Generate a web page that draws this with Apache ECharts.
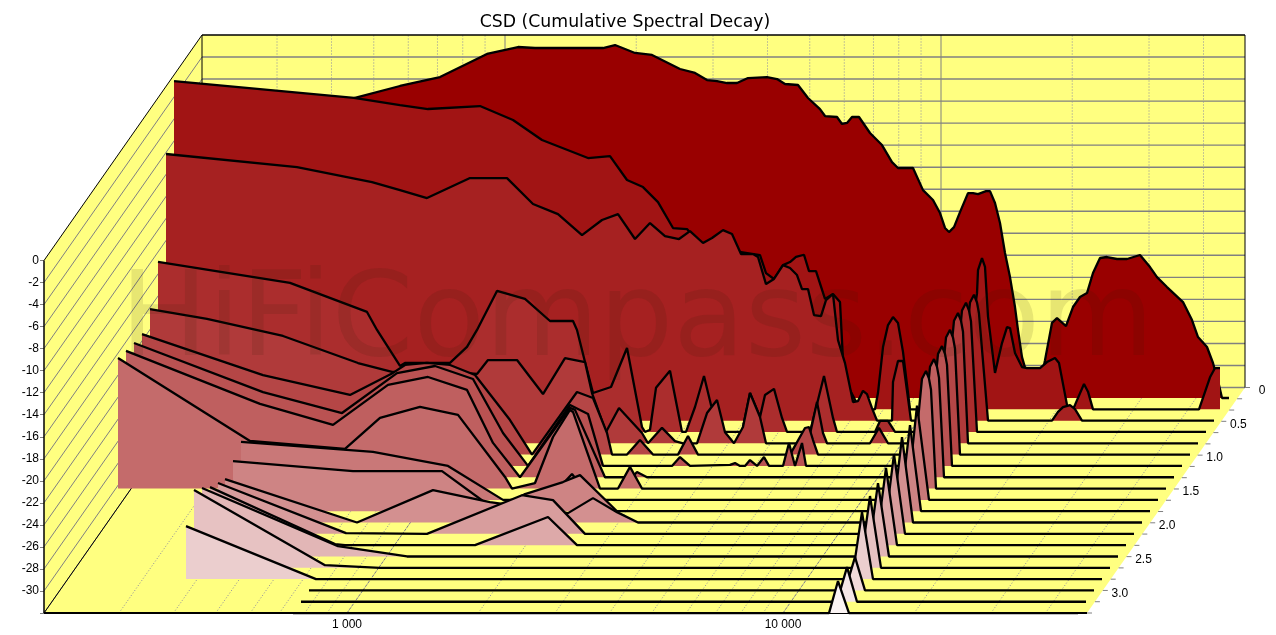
<!DOCTYPE html>
<html><head><meta charset="utf-8">
<style>html,body{margin:0;padding:0;background:#fff}#c{width:1276px;height:635px}</style>
<script src="https://cdn.jsdelivr.net/npm/echarts@6/dist/echarts.min.js"></script>
</head><body><div id="c"></div>
<script>
// Each slice: [frequency bin (436 bins per decade, log scale), level in dB]
const slice00=[[0,-7.7],[172,-4.83],[218,-3.74],[258,-2.93],[305,-.84],[336,-.21],[353,-.3],[421,-.3],[433,-.03],[453,-.75],[470,-.93],[498,-2.2],[513,-2.56],[525,-3.2],[535,-3.29],[545,-3.47],[555,-3.47],[566,-3.02],[585,-2.93],[595,-3.11],[603,-3.56],[616,-3.65],[626,-4.83],[638,-5.83],[643,-6.46],[655,-6.55],[660,-7.18],[665,-7.09],[670,-6.55],[677,-6.55],[688,-8],[700,-9.09],[710,-10.63],[716,-11.17],[731,-11.17],[741,-13.17],[751,-14.07],[758,-15.25],[763,-16.6],[767,-16.97],[772,-16.52],[778,-15.16],[786,-13.44],[791,-13.44],[796,-13.53],[804,-13.26],[808,-13.26],[813,-14.34],[818,-16.15],[823,-18.87],[828,-21.05],[833,-23.76],[836,-25.85],[840,-28.3],[848,-30.83],[858,-30.83],[863,-28.57],[870,-25.2],[875,-24.76],[884,-25.48],[891,-23.76],[898,-22.85],[905,-22.5],[911,-20.68],[918,-19.32],[925,-19.23],[935,-19.41],[945,-19.41],[958,-19.05],[968,-20.14],[975,-21.05],[985,-21.95],[1001,-23.31],[1010,-24.94],[1016,-26.48],[1025,-27.38],[1031,-28.83],[1037,-30.83],[1040,-32],[1047,-32]];
const slice01=[[0,-2.27],[180,-3.8],[226,-4.44],[254,-4.8],[306,-4.53],[339,-5.8],[368,-7.61],[414,-9.24],[436,-9.06],[453,-11.23],[469,-11.87],[484,-13.23],[499,-15.58],[513,-15.67],[526,-17.1],[556,-17.6],[586,-18.03],[592,-19.66],[600,-20.2],[609,-18.94],[616,-18.66],[622,-18.2],[630,-18],[635,-19.48],[642,-19.48],[651,-22],[659,-21.56],[661,-21.56],[666,-22.29],[669,-27.54],[676,-30.26],[686,-32],[701,-32],[704,-30.5],[709,-26.36],[714,-24.37],[719,-23.64],[724,-24.18],[729,-26.8],[736,-32],[776,-32],[798,-24.8],[803,-21.5],[804,-19.4],[808,-18.3],[811,-19.1],[814,-23.6],[821,-28.7],[828,-26],[833,-24.55],[836,-24.64],[841,-26.9],[848,-28.17],[853,-28.26],[866,-28.26],[873,-27.72],[881,-27.36],[885,-27.8],[893,-31.6],[895,-32],[899,-32],[901,-31.6],[910,-29.7],[914,-30.4],[919,-32],[1025,-32],[1036,-29.1],[1041,-28.26],[1046,-28.26]];
const slice02=[[0,-7.85],[131,-9.03],[206,-10.39],[234,-11.12],[261,-11.84],[304,-10.03],[341,-10.03],[367,-12.38],[392,-13.29],[416,-15.19],[436,-13.83],[452,-13.29],[469,-15.55],[484,-14.1],[499,-15.28],[513,-15.55],[524,-14.83],[537,-15.91],[546,-15.46],[557,-14.74],[566,-15.1],[575,-16.91],[587,-16.91],[592,-17.18],[600,-19.63],[608,-19.17],[617,-17.91],[624,-18.18],[631,-18.81],[636,-20.08],[642,-20.08],[648,-22.44],[655,-22.53],[660,-21.08],[667,-20.53],[672,-24.7],[679,-26.79],[687,-30.32],[692,-30.23],[697,-29.3],[701,-29.6],[706,-30.87],[711,-32],[726,-32],[727,-28.5],[732,-26.6],[737,-26.6],[745,-32],[787,-32],[801,-24.1],[804,-21.3],[808,-20.6],[811,-21.3],[813,-22.3],[822,-32],[886,-32],[892,-31.2],[897,-30.77],[904,-30.59],[909,-30.95],[916,-32],[1048,-32]];
const slice03=[[0,-16.6],[132,-18.5],[209,-21.13],[219,-22.76],[242,-26.02],[247,-25.75],[292,-25.75],[309,-24.3],[319,-22.76],[339,-19.23],[367,-19.95],[392,-21.95],[415,-21.95],[419,-22.76],[427,-25.66],[435,-28.47],[453,-27.93],[469,-24.39],[484,-31.55],[487,-32],[492,-31.8],[498,-28],[512,-26.46],[524,-32],[528,-32],[537,-29.74],[546,-26.93],[553,-29.56],[565,-32],[584,-32],[592,-28.47],[602,-30.64],[607,-28.65],[616,-28.1],[624,-30.73],[629,-32],[652,-32],[666,-26.93],[675,-30.73],[679,-32],[717,-32],[722,-31],[730,-31],[737,-32],[793,-32],[801,-23.8],[804,-21],[808,-20.3],[811,-21],[813,-22],[819,-32],[1048,-32]];
const slice04=[[0,-19.84],[57,-20.74],[133,-22.28],[208,-24.73],[242,-25.54],[300,-25.54],[327,-25.72],[338,-24.46],[367,-24.46],[393,-27.54],[415,-24.28],[435,-24.64],[442,-27.45],[456,-30.98],[469,-28.8],[492,-31.07],[498,-32],[512,-30.6],[525,-31.8],[533,-32],[547,-32],[557,-29.26],[567,-28.08],[575,-31],[584,-32],[593,-30.53],[600,-27.45],[610,-29.62],[616,-32],[658,-32],[667,-28.26],[673,-31.07],[677,-32],[720,-32],[729,-30.6],[738,-32],[793,-32],[801,-23.7],[804,-20.9],[808,-20.2],[811,-20.9],[813,-21.9],[818,-32],[1048,-32]];
const slice05=[[0,-21.08],[121,-24.8],[208,-26.6],[251,-24.6],[263,-23.88],[285,-23.7],[308,-23.88],[333,-24.79],[368,-28.87],[390,-32],[435,-26.33],[451,-26.87],[465,-30.04],[470,-32],[485,-32],[498,-30.68],[511,-32],[536,-32],[546,-30.32],[556,-32],[648,-32],[663,-29.59],[667,-29.5],[671,-30.68],[676,-32],[793,-32],[801,-24.2],[804,-21.4],[808,-20.7],[811,-21.4],[813,-22.4],[818,-32],[1048,-32]];
const slice06=[[0,-20.87],[129,-25.31],[208,-27.21],[263,-23.59],[301,-22.95],[339,-24.13],[369,-29.02],[394,-32],[436,-26.48],[454,-27.29],[469,-32],[538,-32],[546,-31.2],[556,-32],[596,-31.9],[601,-31.74],[606,-32],[611,-32],[616,-31.47],[623,-32],[625,-32],[630,-31.2],[635,-32],[649,-32],[655,-29.93],[661,-32],[663,-32],[668,-29.93],[672,-32],[793,-32],[801,-24.65],[804,-21.85],[808,-21.15],[811,-21.85],[813,-22.85],[818,-32],[1048,-32]];
const slice07=[[0,-20.56],[134,-25.36],[207,-27.26],[262,-23.64],[302,-22.92],[341,-24.09],[367,-28.89],[394,-32],[444,-25.72],[449,-25.9],[479,-32],[506,-32],[511,-31.52],[521,-32],[793,-32],[801,-24.8],[804,-22],[808,-21.3],[811,-22],[813,-23],[818,-32],[1048,-32]];
const slice08=[[0,-20.17],[132,-27.69],[227,-28.41],[262,-25.6],[302,-24.6],[340,-25.33],[387,-30.95],[394,-32],[417,-31.5],[435,-27.33],[452,-24.88],[455,-25.06],[482,-32],[500,-32],[512,-30.04],[524,-32],[793,-32],[801,-24.85],[804,-22.05],[808,-21.35],[811,-22.05],[813,-23.05],[818,-32],[1048,-32]];
const slice09=[[131,-26.75],[263,-27.66],[338,-28.93],[393,-32],[438,-32],[462,-29.65],[482,-32],[797,-32],[807,-23.47],[809,-23.5],[819,-32],[1048,-32]];
const slice10=[[131,-27.46],[251,-28.37],[340,-28.37],[395,-32],[423,-30.45],[461,-29.36],[478,-28.73],[515,-32],[798,-32],[808,-24.2],[810,-24.2],[819,-32],[1048,-32]];
const slice11=[[131,-28.07],[263,-32],[339,-29.07],[396,-30.15],[474,-31.15],[499,-29.79],[523,-31.06],[544,-32],[798,-32],[808,-24.26],[810,-24.26],[819,-32],[1048,-32]];
const slice12=[[132,-27.4],[260,-31.94],[341,-32],[436,-28.5],[467,-28.95],[499,-32],[798,-32],[808,-24.78],[810,-24.78],[819,-32],[1048,-32]];
const slice13=[[132,-26.74],[257,-31.9],[267,-32],[397,-32],[470,-29.45],[499,-32],[798,-32],[808,-25.01],[810,-25.01],[819,-32],[1048,-32]];
const slice14=[[132,-25.8],[268,-31.06],[337,-32],[798,-32],[808,-25.35],[810,-25.35],[819,-32],[1048,-32]];
const slice15=[[132,-24.96],[263,-31.76],[318,-32],[798,-32],[808,-25.5],[810,-25.5],[819,-32],[1048,-32]];
const slice16=[[132,-27.2],[262,-32],[798,-32],[808,-25.93],[810,-25.93],[819,-32],[1048,-32]];
const slice17=[[263,-32],[799,-32],[809,-28.98],[811,-28.98],[819,-32],[1048,-32]];
const slice18=[[263,-32],[799,-32],[809,-28.86],[811,-28.86],[819,-32],[1048,-32]];
const slice19=[[263,-32],[799,-32],[808,-29.1],[810,-29.1],[819,-32],[1048,-32]];
const slices=[slice00,slice01,slice02,slice03,slice04,slice05,slice06,slice07,slice08,slice09,slice10,slice11,slice12,slice13,slice14,slice15,slice16,slice17,slice18,slice19];
const sliceColors=['#990000','#a11414','#a62121','#ab2d2d','#b03a3a','#b54646','#ba5252','#bf5f5f','#c46b6b','#c97878','#ce8484','#d39090','#d89d9d','#dda9a9','#e2b6b6','#e7c2c2','#ebcece','#f1dbdb','#f5e7e7','#fbf4f4'];

const freqTicks=[300,400,500,600,700,800,900,1000,2000,3000,4000,5000,6000,7000,8000,9000,10000,20000,30000,40000];
const freqAxisTicks=freqTicks.concat([100000]);
const freqLabels={1000:'1 000',10000:'10 000'};
const dbTicks=[0,-2,-4,-6,-8,-10,-12,-14,-16,-18,-20,-22,-24,-26,-28,-30,-32];
const timeTicks=[0,1,2,3,4,5,6,7,8,9,10,11,12,13,14,15,16,17,18,19,20].map(i=>i/6);
const timeLabels=[[0,'0'],[0.5,'0.5'],[1,'1.0'],[1.5,'1.5'],[2,'2.0'],[2.5,'2.5'],[3,'3.0']];
const title='CSD (Cumulative Spectral Decay)';
const watermark='HiFiCompass.com';

const LOG_MIN=(44-347)/436+3, LOG_FLOOR_MAX=(1087-347)/436+3, T_MAX=20/6;
const SHEAR_X=158, SHEAR_Y=-225.5;
const FONT='12px "Liberation Sans", Arial, sans-serif';

function renderBox(params,api){
  const P=(lf,db,d)=>{const c=api.coord([lf,db]);return [c[0]+SHEAR_X*d,c[1]+SHEAR_Y*d];};
  const kids=[];
  const poly=(pts,fill)=>kids.push({type:'polygon',shape:{points:pts},style:{fill:fill,stroke:null}});
  const line=(a,b,color,w,dash)=>kids.push({type:'line',shape:{x1:a[0],y1:a[1],x2:b[0],y2:b[1]},style:{stroke:color,lineWidth:w,lineDash:dash||null}});
  const Y='#ffff80', GR='#808080', DOT='#8a8aa0';
  // walls and floor
  poly([P(LOG_MIN,0,0),P(LOG_MIN,0,1),P(LOG_MIN,-32,1),P(LOG_MIN,-32,0)],Y);
  poly([P(LOG_MIN,0,1),P(LOG_FLOOR_MAX,0,1),P(LOG_FLOOR_MAX,-32,1),P(LOG_MIN,-32,1)],Y);
  poly([P(LOG_MIN,-32,0),P(LOG_MIN,-32,1),P(LOG_FLOOR_MAX,-32,1),P(LOG_FLOOR_MAX,-32,0)],Y);
  // level grid on left and back walls
  dbTicks.forEach(db=>{
    if(db===0) return;
    line(P(LOG_MIN,db,0),P(LOG_MIN,db,1),GR,1);
    line(P(LOG_MIN,db,1),P(LOG_FLOOR_MAX,db,1),GR,1.4);
  });
  // frequency grid on floor and back wall
  freqTicks.forEach(f=>{
    const lf=Math.log10(f), major=(f===1000||f===10000);
    line(P(lf,-32,0),P(lf,-32,1),major?'#77778f':DOT,1,major?[3,1]:[1,2]);
    line(P(lf,-32,1),P(lf,0,1),major?GR:DOT,1,major?null:[1,2]);
  });
  // frame
  line(P(LOG_MIN,0,0),P(LOG_MIN,0,1),'#000',1);
  line(P(LOG_MIN,0,1),P(LOG_FLOOR_MAX,0,1),'#000',1.5);
  line(P(LOG_FLOOR_MAX,0,1),P(LOG_FLOOR_MAX,-32,1),'#000',1);
  line(P(LOG_MIN,0,1),P(LOG_MIN,-32,1),'#000',1);
  line(P(LOG_MIN,-32,0),P(LOG_MIN,-32,1),'#000',1);
  line(P(LOG_MIN,0,0),P(LOG_MIN,-32,0),'#000',1.5);
  line(P(LOG_MIN,-32,0),P(LOG_FLOOR_MAX,-32,0),'#000',2);
  // time axis along the right floor edge
  timeTicks.forEach(t=>{
    const p=P(LOG_FLOOR_MAX,-32,1-t/T_MAX);
    line(p,[p[0]+5,p[1]],GR,1);
  });
  timeLabels.forEach(([t,s])=>{
    const p=P(LOG_FLOOR_MAX,-32,1-t/T_MAX);
    kids.push({type:'text',style:{text:s,x:p[0]+17,y:p[1]+3,align:'center',verticalAlign:'middle',font:FONT,fill:'#000'}});
  });
  return {type:'group',children:kids};
}

const grids=[{left:44,top:260.5,width:1175,height:352.5}];
const xAxes=[{gridIndex:0,type:'value',min:LOG_MIN,max:5,splitLine:{show:false},axisLine:{show:false},
  axisTick:{show:true,length:4,lineStyle:{color:'#808080'},customValues:freqAxisTicks.map(f=>Math.log10(f))},
  axisLabel:{show:true,margin:6,color:'#000',fontFamily:'Liberation Sans',fontSize:12,customValues:[3,4],
    formatter:v=>freqLabels[Math.round(Math.pow(10,v))]||''}}];
const yAxes=[{gridIndex:0,type:'value',min:-32,max:0,interval:2,splitLine:{show:false},axisLine:{show:false},
  axisTick:{show:true,length:4,lineStyle:{color:'#808080'}},
  axisLabel:{margin:5,color:'#000',fontFamily:'Liberation Sans',fontSize:12,formatter:v=>v===-32?'':String(v)}}];
const series=[{type:'custom',coordinateSystem:'cartesian2d',xAxisIndex:0,yAxisIndex:0,data:[[3,-16]],renderItem:renderBox,clip:false,silent:true,z:1,animation:false}];

slices.forEach((s,k)=>{
  const i=k+1;
  grids.push({left:182-8*k,top:44.7+11.32*k,width:1048,height:353.3});
  xAxes.push({gridIndex:i,type:'value',min:0,max:1048,show:false});
  yAxes.push({gridIndex:i,type:'value',min:-32,max:0,show:false});
  series.push({type:'line',xAxisIndex:i,yAxisIndex:i,data:s,symbol:'none',showSymbol:false,clip:false,silent:true,animation:false,z:3+k,
    lineStyle:{color:'#000',width:2.3},areaStyle:{color:sliceColors[k],opacity:1,origin:'start'}});
});

const chart=echarts.init(document.getElementById('c'),null,{renderer:'canvas'});
chart.setOption({
  animation:false,backgroundColor:'#fff',
  title:{text:title,left:620,top:9,textAlign:'center',textStyle:{fontFamily:'DejaVu Sans',fontSize:17.3,fontWeight:'normal',color:'#000'}},
  grid:grids,xAxis:xAxes,yAxis:yAxes,series:series,
  graphic:[{type:'text',silent:true,z:100,left:120,top:266,style:{text:watermark,font:'117px "DejaVu Sans"',fill:'rgba(40,30,0,0.11)',shadowBlur:4,shadowColor:'rgba(40,30,0,0.1)'}}]
});
</script></body></html>
